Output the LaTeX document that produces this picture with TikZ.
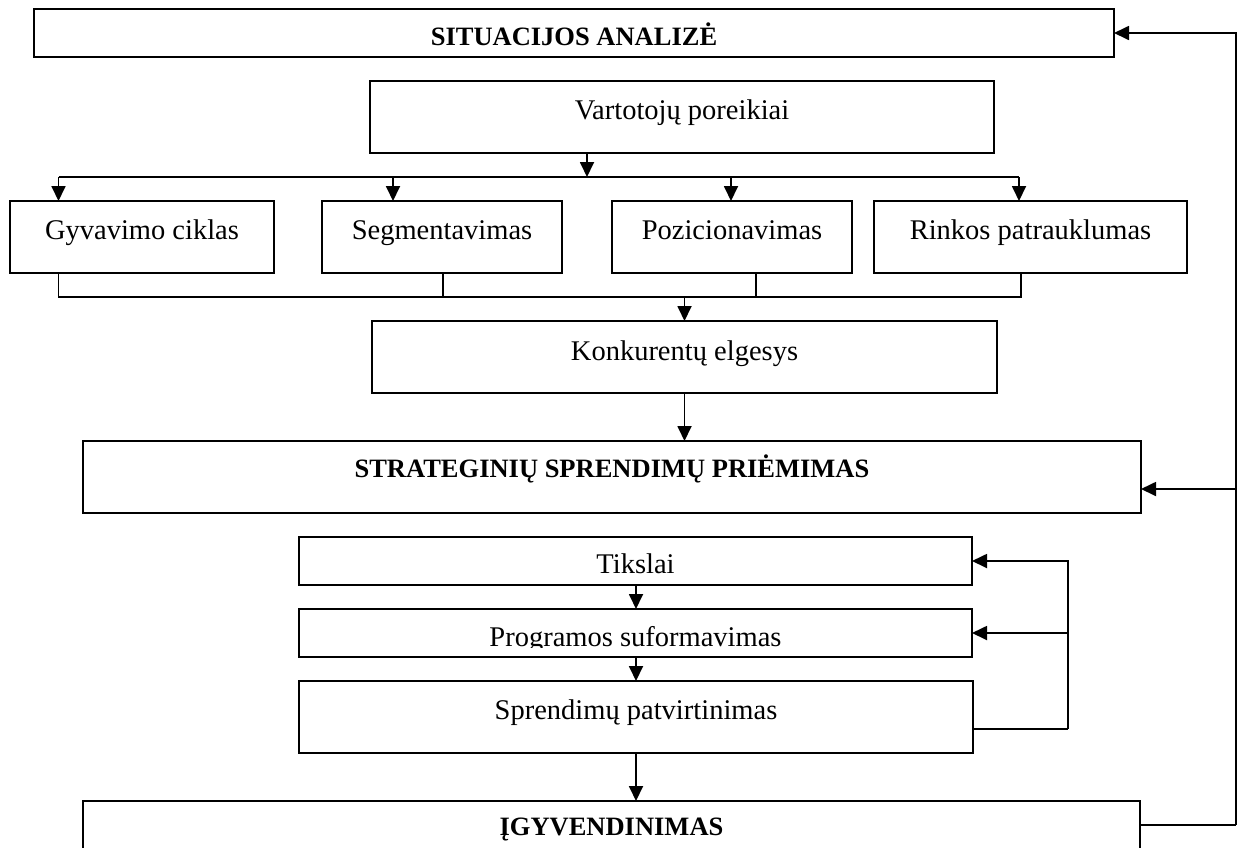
\documentclass[tikz,border=0pt]{standalone}
\usepackage{fontspec}
\setmainfont{Liberation Serif}
\usetikzlibrary{arrows.meta}

\tikzset{
  box/.style={draw, line width=2pt, inner sep=0pt, outer sep=0pt},
  ln/.style={line width=1.8pt},
  arr/.style={line width=1.8pt, -{Triangle[length=15pt,width=14pt]}},
  lbl/.style={anchor=base, inner sep=0pt, font=\fontsize{28.5}{34}\selectfont},
  blbl/.style={anchor=base, inner sep=0pt, font=\fontsize{26.5}{32}\selectfont\bfseries},
}

\begin{document}
\begin{tikzpicture}[x=1pt, y=-1pt]
\clip (0,0) rectangle (1239,847);
\fill[white] (0,0) rectangle (1239,847);

% boxes
\node[box, minimum width=1080pt, minimum height=48pt] (sit)  at (574,33)    {};
\node[box, minimum width=624pt,  minimum height=72pt] (vart) at (682,117)   {};
\node[box, minimum width=264pt,  minimum height=72pt] (gyv)  at (142,237)   {};
\node[box, minimum width=240pt,  minimum height=72pt] (seg)  at (442,237)   {};
\node[box, minimum width=240pt,  minimum height=72pt] (poz)  at (732,237)   {};
\node[box, minimum width=313pt,  minimum height=72pt] (rink) at (1030.5,237){};
\node[box, minimum width=625pt,  minimum height=72pt] (konk) at (684.5,357) {};
\node[box, minimum width=1058pt, minimum height=72pt] (strat) at (612,477)  {};
\node[box, minimum width=673pt,  minimum height=48pt] (tiks) at (635.5,561) {};
\node[box, minimum width=673pt,  minimum height=48pt] (prog) at (635.5,633) {};
\node[box, minimum width=674pt,  minimum height=72pt] (spr)  at (636,717)   {};
\node[box, minimum width=1057pt, minimum height=72pt] (igy)  at (611.5,837) {};

% labels
\node[blbl] (tsit)  at (574,45)   {SITUACIJOS ANALIZĖ};
\node[lbl]  (tvart) at (682,119)  {Vartotojų poreikiai};
\node[lbl]  (tgyv)  at (142,239)  {Gyvavimo ciklas};
\node[lbl]  (tseg)  at (442,239)  {Segmentavimas};
\node[lbl]  (tpoz)  at (732,239)  {Pozicionavimas};
\node[lbl]  (trink) at (1030.5,239) {Rinkos patrauklumas};
\node[lbl]  (tkonk) at (684.5,360) {Konkurentų elgesys};
\node[blbl] (tstrat) at (612,477) {STRATEGINIŲ SPRENDIMŲ PRIĖMIMAS};
\node[lbl]  (ttiks) at (635.5,573) {Tikslai};
\begin{scope}
  \clip (300,610) rectangle (971,647);
  \node[lbl] (tprog) at (635.5,646) {Programos suformavimas};
\end{scope}
\node[lbl]  (tspr)  at (636,719)  {Sprendimų patvirtinimas};
\node[blbl] (tigy)  at (611.5,835) {ĮGYVENDINIMAS};

% distribution from Vartotojų poreikiai
\coordinate (v0) at (587,177);
\coordinate (ba) at (58.5,177);
\coordinate (bb) at (393,177);
\coordinate (bc) at (731,177);
\coordinate (bd) at (1019,177);
\draw[arr] (v0 |- vart.south) -- (v0);
\draw[ln] (ba) -- (bd);
\draw[arr] (ba) -- (ba |- gyv.north);
\draw[arr] (bb) -- (bb |- seg.north);
\draw[arr] (bc) -- (bc |- poz.north);
\draw[arr] (bd) -- (bd |- rink.north);

% collection into Konkurentų elgesys
\coordinate (ca) at (58.5,297);
\coordinate (cb) at (443,297);
\coordinate (cc) at (756,297);
\coordinate (cd) at (1021,297);
\coordinate (ce) at (684.5,297);
\draw[ln, line width=1.5pt] (ca |- gyv.south) -- (ca) -- (cd) -- (cd |- rink.south);
\draw[ln, line width=1.5pt] (cb |- seg.south) -- (cb);
\draw[ln, line width=1.5pt] (cc |- poz.south) -- (cc);
\draw[arr] (ce) -- (ce |- konk.north);

% main flow
\draw[arr] (konk.south) -- (konk.south |- strat.north);
\coordinate (m0) at (636,0);
\draw[arr] (m0 |- tiks.south) -- (m0 |- prog.north);
\draw[arr] (m0 |- prog.south) -- (m0 |- spr.north);
\draw[arr] (m0 |- spr.south) -- (m0 |- igy.north);

% inner feedback loop
\coordinate (l1) at (1068,729);
\draw[ln] (spr.east |- l1) -- (l1);
\draw[arr] (l1) -- (l1 |- tiks.east) -- (tiks.east);
\draw[arr] (l1 |- prog.east) -- (prog.east);

% outer feedback loop
\coordinate (r1) at (1236,825);
\coordinate (r2) at (1236,489);
\draw[ln] (igy.east |- r1) -- (r1);
\draw[arr] (r1) -- (r1 |- sit.east) -- (sit.east);
\draw[arr] (r2) -- (r2 -| strat.east);
\end{tikzpicture}
\end{document}
